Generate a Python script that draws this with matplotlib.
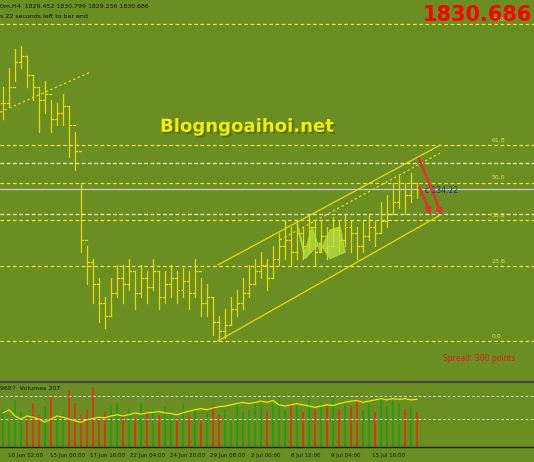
import matplotlib
matplotlib.use("Agg")
import matplotlib.pyplot as plt
import matplotlib.patheffects as pe

closes = [75,80,88,90,84,80,76,78,70,72,
          74,68,60,32,25,18,12,8,15,20,
          18,22,15,20,17,22,14,18,20,16,
          19,15,22,12,14,6,3,5,10,12,
          15,18,22,24,20,26,30,32,28,34,
          30,36,28,33,30,35,32,36,34,30,
          33,36,34,38,40,44,48,46,50,48]
highs = [80,86,92,93,90,84,80,82,76,75,
         78,74,66,50,30,26,20,14,20,24,
         24,26,22,24,22,26,22,22,24,22,
         23,22,26,20,18,14,8,10,14,16,
         20,24,26,28,26,30,34,38,36,38,
         36,40,38,38,36,39,38,40,38,36,
         38,40,38,44,46,50,52,50,53,50]
lows = [70,74,82,86,80,76,66,72,66,68,
        68,58,54,28,18,12,6,4,8,14,
        12,16,10,14,12,16,10,12,14,12,
        14,10,14,8,8,2,0,1,5,8,
        10,14,18,20,16,20,24,26,24,26,
        26,28,24,28,26,30,28,30,28,26,
        28,32,30,34,36,40,42,40,44,45]
volumes = [60,40,75,55,45,70,50,65,80,45,
           55,90,70,50,60,95,45,55,65,70,
           50,60,45,70,55,60,50,65,55,45,
           70,50,60,45,55,65,50,60,45,70,
           55,60,75,65,55,70,80,60,70,65,
           55,75,60,70,65,80,60,70,65,75,
           60,70,55,80,65,75,70,60,65,55]
vol_line = [55,60,50,45,50,48,45,40,45,50,
            48,45,42,40,44,46,48,47,50,52,
            50,52,55,53,55,56,57,55,54,52,
            55,58,60,62,60,63,65,66,68,70,
            72,70,72,74,72,75,68,66,68,70,
            68,66,64,66,68,67,70,72,74,75,
            72,74,76,78,76,78,77,78,76,77]
fib_levels = [0.0, 23.6, 38.2, 50.0, 61.8, 100.0]
xticklabels = ["10 Jun 12:00","15 Jun 00:00","17 Jun 16:00","22 Jun 04:00","24 Jun 20:00",
               "29 Jun 08:00","2 Jul 00:00","6 Jul 12:00","9 Jul 04:00","13 Jul 16:00"]
xtick_px = [8, 50, 90, 130, 170, 210, 251, 291, 331, 372]

BG = "#6b8e23"
W, H = 534, 462
fig = plt.figure(figsize=(W/100, H/100), dpi=100, facecolor=BG)
ax = fig.add_axes([0, (H-365)/H, 1, 365/H], facecolor=BG)
ax.set_xlim(0, W)
ax.set_ylim(-7.6, 107.6)
ax.axis("off")

YEL = "#e8d800"
for i, c in enumerate(closes):
    x = 3 + i*6
    o = closes[i-1] if i > 0 else c
    ax.plot([x, x], [lows[i], highs[i]], color=YEL, lw=0.9)
    ax.plot([x-2, x], [o, o], color=YEL, lw=0.9)
    ax.plot([x, x+2], [c, c], color=YEL, lw=0.9)

for lv in fib_levels:
    ax.axhline(lv, color="#e8e040", lw=0.9, ls=(0, (3, 2)))
    ax.text(492, lv+1, f"{lv:.1f}", color="#e8e040", fontsize=4.5)
for lv in [56.1, 40.0]:
    ax.axhline(lv, color="#f0f0c0", lw=0.9, ls=(0, (3, 2)))
ax.axhline(47.9, color="#c8c8c8", lw=0.9)

ax.plot([218, 440], [0, 39.7], color=YEL, lw=0.9)
ax.plot([218, 440], [24, 61.8], color=YEL, lw=0.9)
ax.plot([280, 440], [31.9, 59.3], color=YEL, lw=0.9, ls=(0, (2, 2)))
ax.plot([0, 90], [72.2, 84.8], color=YEL, lw=0.9, ls=(0, (2, 2)))

ax.fill([297, 305, 312, 320, 330, 340, 345, 330, 320, 305], [37, 28, 36, 28, 35, 36, 28, 26, 31, 26],
        color="#a8d848", alpha=0.9)

for (x0, y0, x1, y1) in [(418, 58.4, 443, 38.8), (418, 49.5, 432, 39.1)]:
    ax.annotate("", xy=(x1, y1), xytext=(x0, y0),
                arrowprops=dict(arrowstyle="-|>", color="#e83030", lw=1.8, mutation_scale=8))

ax.text(160, 66, "Blogngoaihoi.net", color="#f0f000", fontsize=13, fontweight="bold",
        path_effects=[pe.withSimplePatchShadow(offset=(1.5, -1.5), shadow_rgbFace="#333300")])
ax.text(532, 101.0, "1830.686", color="#ff0000", fontsize=15, fontweight="bold", ha="right")
ax.text(443, -6.2, "Spread: 300 points", color="#e02020", fontsize=5.5)
ax.text(425, 46.8, "c 134:22", color="#2030a0", fontsize=5.5)
ax.text(0, 105, "0m,H4  1829.452 1830.799 1829.256 1830.686", color="#111", fontsize=4.5)
ax.text(0, 101.8, "s 22 seconds left to bar end", color="#111", fontsize=4.5)

fig.add_artist(plt.Line2D([0, 1], [1-382/H, 1-382/H], color="#444", lw=1.5))
vax = fig.add_axes([0, (H-447)/H, 1, 62/H], facecolor=BG)
vax.set_xlim(0, W)
vax.set_ylim(0, 100)
vax.axis("off")
for i, v in enumerate(volumes):
    x = 3 + i*6
    up = i == 0 or closes[i] >= closes[i-1]
    vax.plot([x, x], [0, v], color="#22a010" if up else "#e83010", lw=1.2)
vax.plot([3 + i*6 for i in range(len(vol_line))], vol_line, color="#e8e800", lw=0.9)
for lv in [45, 82]:
    vax.axhline(lv, color="#d0d0d0", lw=0.7, ls=(0, (3, 2)))
vax.text(0, 92, "9687  Volumes 207", color="#111", fontsize=4.5)

fig.add_artist(plt.Line2D([0, 1], [1-447/H, 1-447/H], color="#222", lw=1))
for xp, lab in zip(xtick_px, xticklabels):
    fig.text(xp/W, 1-455/H, lab, fontsize=4, color="#111", va="center")
fig.savefig("out.png", dpi=100, facecolor=BG)
